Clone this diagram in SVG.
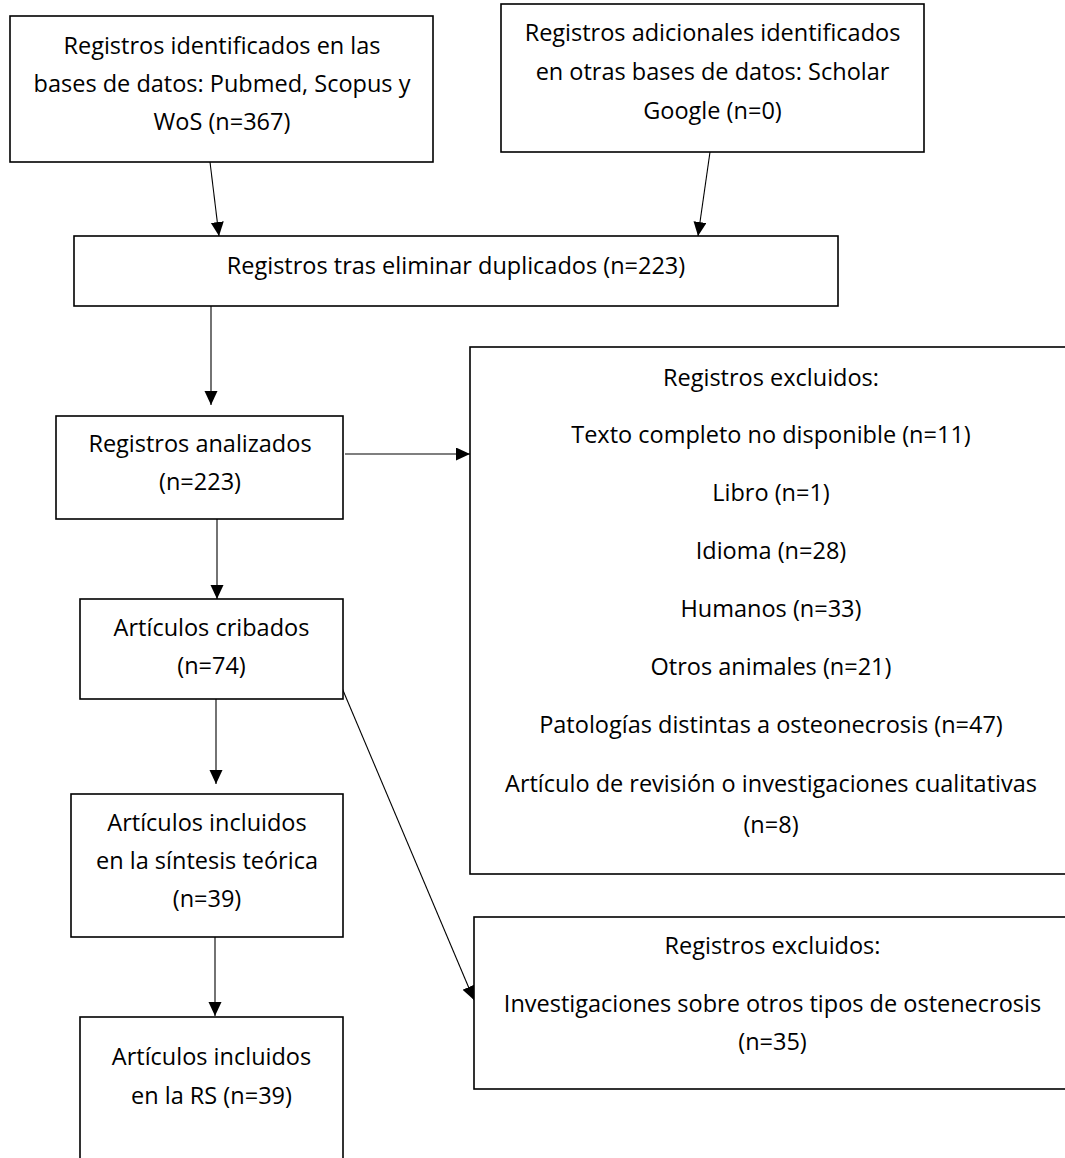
<svg xmlns="http://www.w3.org/2000/svg" width="1065" height="1158" viewBox="0 0 1065 1158">
<style>
.box{fill:#fff;stroke:#000;stroke-width:1.6}
.t{font-family:"Open Sans","Noto Sans","Liberation Sans",sans-serif;font-size:23.5px;fill:#000;text-anchor:middle}
.c{stroke:#000;stroke-width:1.1;fill:none;marker-end:url(#ah)}
</style>
<defs>
<marker id="ah" markerUnits="userSpaceOnUse" markerWidth="15" markerHeight="14" refX="14" refY="6.5" orient="auto">
<path d="M0,0 L14,6.5 L0,13 z" fill="#000"/>
</marker>
</defs>
<rect width="1065" height="1158" fill="#fff"/>
<g id="connectors">
<line class="c" x1="210" y1="162" x2="219" y2="236"/>
<line class="c" x1="710" y1="152" x2="698" y2="236"/>
<line class="c" x1="211" y1="306" x2="211" y2="405"/>
<line class="c" x1="345" y1="454" x2="470" y2="454"/>
<line class="c" x1="217" y1="509" x2="217" y2="599"/>
<line class="c" x1="216" y1="699" x2="216" y2="784"/>
<line class="c" x1="215" y1="927" x2="215" y2="1016"/>
<line class="c" x1="342" y1="688" x2="474" y2="1000"/>
</g>
<g id="n1">
<rect class="box" x="10" y="16" width="423" height="146"/>
<text class="t" x="222" y="54">Registros identificados en las</text>
<text class="t" x="222" y="92">bases de datos: Pubmed, Scopus y</text>
<text class="t" x="222" y="130">WoS (n=367)</text>
</g>
<g id="n2">
<rect class="box" x="501" y="4" width="423" height="148"/>
<text class="t" x="712.5" y="41">Registros adicionales identificados</text>
<text class="t" x="712.5" y="80">en otras bases de datos: Scholar</text>
<text class="t" x="712.5" y="119">Google (n=0)</text>
</g>
<g id="n3">
<rect class="box" x="74" y="236" width="764" height="70"/>
<text class="t" x="456" y="274">Registros tras eliminar duplicados (n=223)</text>
</g>
<g id="n4">
<rect class="box" x="56" y="416" width="287" height="103"/>
<text class="t" x="200" y="452">Registros analizados</text>
<text class="t" x="200" y="490">(n=223)</text>
</g>
<g id="n5">
<rect class="box" x="470" y="347" width="602" height="527"/>
<text class="t" x="771" y="386">Registros excluidos:</text>
<text class="t" x="771" y="443">Texto completo no disponible (n=11)</text>
<text class="t" x="771" y="501">Libro (n=1)</text>
<text class="t" x="771" y="559">Idioma (n=28)</text>
<text class="t" x="771" y="617">Humanos (n=33)</text>
<text class="t" x="771" y="675">Otros animales (n=21)</text>
<text class="t" x="771" y="733">Patologías distintas a osteonecrosis (n=47)</text>
<text class="t" x="771" y="792">Artículo de revisión o investigaciones cualitativas</text>
<text class="t" x="771" y="833">(n=8)</text>
</g>
<g id="n6">
<rect class="box" x="80" y="599" width="263" height="100"/>
<text class="t" x="211.5" y="636">Artículos cribados</text>
<text class="t" x="211.5" y="674">(n=74)</text>
</g>
<g id="n7">
<rect class="box" x="71" y="794" width="272" height="143"/>
<text class="t" x="207" y="831">Artículos incluidos</text>
<text class="t" x="207" y="869">en la síntesis teórica</text>
<text class="t" x="207" y="907">(n=39)</text>
</g>
<g id="n8">
<rect class="box" x="80" y="1017" width="263" height="160"/>
<text class="t" x="211.5" y="1065">Artículos incluidos</text>
<text class="t" x="211.5" y="1104">en la RS (n=39)</text>
</g>
<g id="n9">
<rect class="box" x="474" y="917" width="598" height="172"/>
<text class="t" x="772.5" y="954">Registros excluidos:</text>
<text class="t" x="772.5" y="1012">Investigaciones sobre otros tipos de ostenecrosis</text>
<text class="t" x="772.5" y="1050">(n=35)</text>
</g>
</svg>
